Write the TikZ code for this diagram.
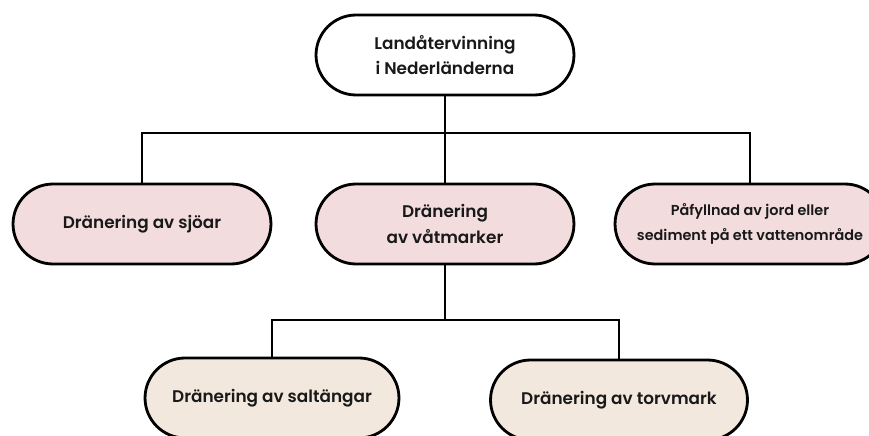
\documentclass[tikz,border=0pt]{standalone}
\usepackage{fontspec}
\newfontfamily\boxfont{Poppins SemiBold}
\usepackage{xcolor}
\usetikzlibrary{positioning}

\definecolor{rosefill}{HTML}{F2DCDD}
\definecolor{sandfill}{HTML}{F3E8DE}

\begin{document}
\begin{tikzpicture}[x=0.02cm, y=-0.02cm,
  topic/.style={draw, line width=1.6pt, rounded corners=0.8cm,
    minimum width=5.16cm, minimum height=1.6cm, align=center,
    font=\boxfont\fontsize{9.6}{14.5}\selectfont, text=black!90},
  link/.style={line width=1.6pt}
]
\useasboundingbox (0,0) rectangle (869,436);

% Root of the tree
\node[topic, fill=white] (root) at (445,55) {Landåtervinning\\i Nederländerna};

% Second level
\node[topic, fill=rosefill] (lakes) at (142,224) {Dränering av sjöar};
\node[topic, fill=rosefill] (wetlands) at (445,224) {Dränering\\av våtmarker};
\node[topic, fill=rosefill, minimum width=5.4cm,
  font=\boxfont\fontsize{8.2}{14}\selectfont] (infill) at (750,224) {Påfyllnad av jord eller\\sediment på ett vattenområde};

% Third level
\node[topic, fill=sandfill, minimum width=5.08cm] (saltmarsh) at (272,398) {Dränering av saltängar};
\node[topic, fill=sandfill, minimum width=5.14cm] (peat) at (619,400) {Dränering av torvmark};

% Connectors
\coordinate (j1) at (445,133);
\coordinate (j2) at (445,320);
\draw[link] (root.south) -- (j1);
\draw[link] (lakes.north) |- (j1) -| (infill.north);
\draw[link] (j1) -- (wetlands.north);
\draw[link] (wetlands.south) -- (j2);
\draw[link] (saltmarsh.north) |- (j2) -| (peat.north);

\end{tikzpicture}
\end{document}
